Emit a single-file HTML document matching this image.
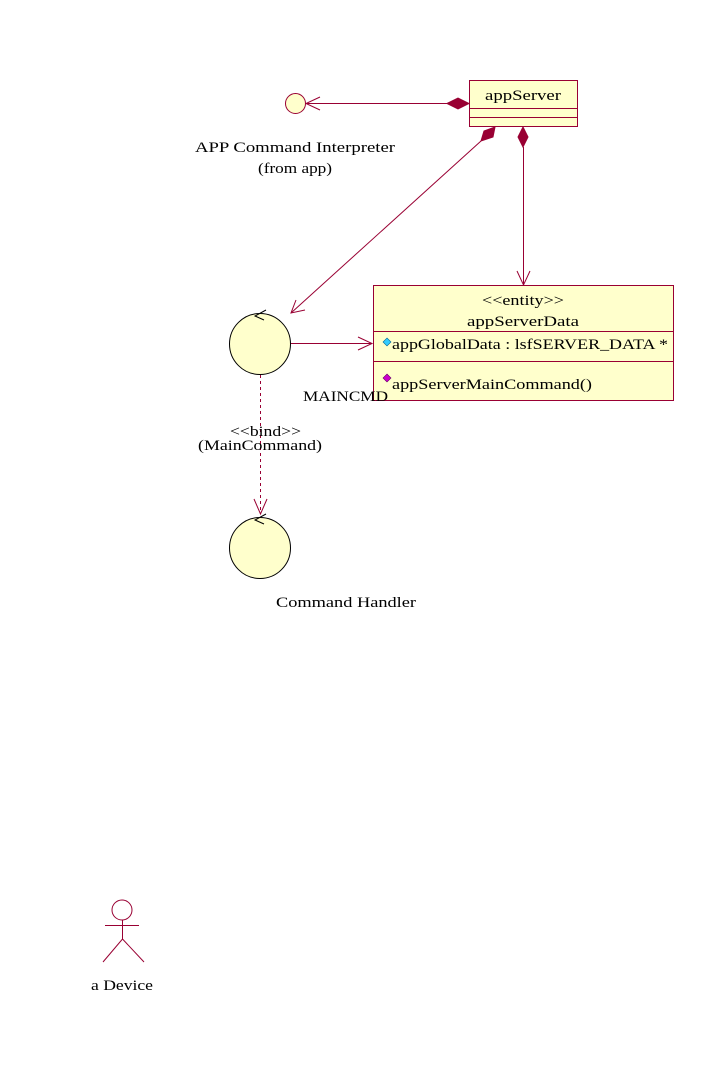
<!DOCTYPE html>
<html><head><meta charset="utf-8"><style>
html,body{margin:0;padding:0;background:#fff;width:706px;height:1079px;overflow:hidden}
svg text{font-family:"Liberation Serif",serif;font-size:15px;fill:#000}
</style></head><body>
<svg width="706" height="1079" viewBox="0 0 706 1079" xmlns="http://www.w3.org/2000/svg">
<g stroke="#990033" stroke-width="1" fill="none">
<circle cx="295.5" cy="103.5" r="10" fill="#ffffcc"/>
<line x1="306" y1="103.5" x2="448" y2="103.5"/>
<polyline points="320,97 306,103.5 320,110"/>
<polygon points="447,103.5 458,98 469,103.5 458,109" fill="#990033"/>
<rect x="469.5" y="80.5" width="108" height="46" fill="#ffffcc"/>
<line x1="469.5" y1="108.5" x2="577.5" y2="108.5"/>
<line x1="469.5" y1="117.5" x2="577.5" y2="117.5"/>
<polygon points="495,127 493,137 481,141 484,131" fill="#990033"/>
<line x1="481" y1="141" x2="291" y2="313"/>
<polyline points="296,300 291,313 305,310"/>
<polygon points="523,127 528,137 523,147 518,137" fill="#990033"/>
<line x1="523.5" y1="147" x2="523.5" y2="285"/>
<polyline points="517,271 523.5,285 530,271"/>
<rect x="373.5" y="285.5" width="300" height="115" fill="#ffffcc"/>
<line x1="373.5" y1="331.5" x2="673.5" y2="331.5"/>
<line x1="373.5" y1="361.5" x2="673.5" y2="361.5"/>
<line x1="291" y1="343.5" x2="372" y2="343.5"/>
<polyline points="358,337 372,343.5 358,350"/>
<line x1="260.5" y1="375" x2="260.5" y2="514" stroke-dasharray="3,3"/>
<polyline points="254,499 260.5,514 267,499"/>
<circle cx="122" cy="910" r="10"/>
<line x1="105" y1="925.5" x2="139" y2="925.5"/>
<line x1="122.5" y1="920" x2="122.5" y2="939"/>
<polyline points="103,962 122.5,939 144,962"/>
</g>
<g stroke="#000" stroke-width="1" fill="#ffffcc">
<circle cx="260" cy="344" r="30.5"/>
<circle cx="260" cy="548" r="30.5"/>
</g>
<g stroke="#000" stroke-width="1" fill="none">
<polyline points="266,310 255,316 264,320"/>
<polyline points="266,514 255,520 264,524"/>
</g>
<polygon points="387,338 391,342 387,346 383,342" fill="#33ccff" stroke="#006699" stroke-width="0.6"/>
<polygon points="387,374 391,378 387,382 383,378" fill="#cc00cc" stroke="#660066" stroke-width="0.6"/>
<g lengthAdjust="spacingAndGlyphs">
<text x="485" y="100" textLength="76" lengthAdjust="spacingAndGlyphs">appServer</text>
<text x="195" y="152" textLength="200" lengthAdjust="spacingAndGlyphs">APP Command Interpreter</text>
<text x="258" y="173" textLength="74" lengthAdjust="spacingAndGlyphs">(from app)</text>
<text x="482" y="305" textLength="82" lengthAdjust="spacingAndGlyphs">&lt;&lt;entity&gt;&gt;</text>
<text x="467" y="326" textLength="112" lengthAdjust="spacingAndGlyphs">appServerData</text>
<text x="392" y="349" textLength="276" lengthAdjust="spacingAndGlyphs">appGlobalData : lsfSERVER_DATA *</text>
<text x="392" y="389" textLength="200" lengthAdjust="spacingAndGlyphs">appServerMainCommand()</text>
<text x="303" y="401" textLength="85" lengthAdjust="spacingAndGlyphs">MAINCMD</text>
<text x="230" y="436" textLength="71" lengthAdjust="spacingAndGlyphs">&lt;&lt;bind&gt;&gt;</text>
<text x="198" y="450" textLength="124" lengthAdjust="spacingAndGlyphs">(MainCommand)</text>
<text x="276" y="607" textLength="140" lengthAdjust="spacingAndGlyphs">Command Handler</text>
<text x="91" y="990" textLength="62" lengthAdjust="spacingAndGlyphs">a Device</text>
</g>
</svg>
</body></html>
